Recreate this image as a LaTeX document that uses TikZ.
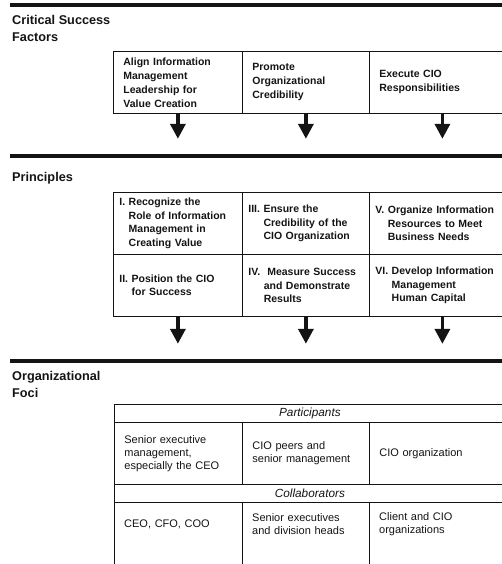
\documentclass[tikz,border=0pt]{standalone}
\usepackage{fontspec}
\setmainfont{Liberation Sans}
\usetikzlibrary{arrows.meta, positioning}
\definecolor{ink}{RGB}{20,20,20}
\newcommand{\hangnum}[1]{\phantom{#1}}
\tikzset{
  secrule/.style={draw=ink, line width=3.5pt},
  sectitle/.style={font=\fontsize{12.7}{17}\selectfont\bfseries, align=left, inner sep=0pt, text=ink},
  csfbox/.style={draw=ink, line width=0.8pt, anchor=north west, minimum height=62pt,
    inner xsep=10pt, inner ysep=0pt, text width=#1, align=left, text=ink,
    font=\fontsize{10.5}{14}\selectfont\bfseries},
  prinbox/.style={csfbox=#1, inner xsep=6pt, font=\fontsize{10.5}{13.5}\selectfont\bfseries},
  focihead/.style={draw=ink, line width=0.8pt, anchor=north west, minimum height=18pt,
    minimum width=391pt, inner sep=0pt, text=ink, font=\fontsize{11.8}{13}\selectfont\itshape},
  focicell/.style={anchor=north west, inner xsep=10pt, inner ysep=0pt, text width=#1,
    align=left, text=ink, font=\fontsize{11}{13}\selectfont},
  focigrid/.style={draw=ink, line width=0.8pt},
  flowarrow/.style={draw=ink, line width=3.5pt, -{Triangle[width=15pt,length=15pt]}}
}
\begin{document}
\begin{tikzpicture}[x=1pt, y=-1pt]
  \useasboundingbox (0,0) rectangle (502,564);
  % section rules
  \draw[secrule] (10,5) -- (520,5);
  \draw[secrule] (10,156) -- (520,156);
  \draw[secrule] (10,361) -- (520,361);
  % critical success factors
  \node[sectitle, anchor=north west] (csftitle) at (12,15) {Critical Success\\Factors};
  \node[csfbox=109pt] (csf1) at (113,51) {Align Information\\Management\\Leadership for\\Value Creation};
  \node[csfbox=107pt] (csf2) at (242,51) {Promote\\Organizational\\Credibility};
  \node[csfbox=126pt] (csf3) at (369,51) {Execute CIO\\Responsibilities};
  \coordinate (csf1tip) at ([yshift=-25pt]csf1.south);
  \coordinate (csf2tip) at ([yshift=-25pt]csf2.south);
  \coordinate (csf3tip) at ([yshift=-25pt]csf3.south);
  \draw[flowarrow] (csf1.south) -- (csf1tip);
  \draw[flowarrow] (csf2.south) -- (csf2tip);
  \draw[flowarrow] (csf3.south) -- (csf3tip);
  % principles
  \node[sectitle, anchor=base west] (printitle) at (12,181) {Principles};
  \node[prinbox=117pt] (prin1) at (113,192) {I. Recognize the\\\hangnum{I.\ }Role of Information\\\hangnum{I.\ }Management in\\\hangnum{I.\ }Creating Value};
  \node[prinbox=115pt] (prin3) at (242,192) {III. Ensure the\\\hangnum{III.\ }Credibility of the\\\hangnum{III.\ }CIO Organization};
  \node[prinbox=134pt] (prin5) at (369,192) {V. Organize Information\\\hangnum{V.\ }Resources to Meet\\\hangnum{V.\ }Business Needs};
  \node[prinbox=117pt] (prin2) at (113,254) {II. Position the CIO\\\hangnum{II.\ }for Success};
  \node[prinbox=115pt] (prin4) at (242,254) {IV.\ \ Measure Success\\\hangnum{IV.\ }and Demonstrate\\\hangnum{IV.\ }Results};
  \node[prinbox=134pt] (prin6) at (369,254) {VI. Develop Information\\\hangnum{VI.\ }Management\\\hangnum{VI.\ }Human Capital};
  \coordinate (prin2tip) at ([yshift=-27pt]prin2.south);
  \coordinate (prin4tip) at ([yshift=-27pt]prin4.south);
  \coordinate (prin6tip) at ([yshift=-27pt]prin6.south);
  \draw[flowarrow] (prin2.south) -- (prin2tip);
  \draw[flowarrow] (prin4.south) -- (prin4tip);
  \draw[flowarrow] (prin6.south) -- (prin6tip);
  % organizational foci
  \node[sectitle, anchor=north west] (focititle) at (12,371) {Organizational\\Foci};
  \node[focihead] (parthead) at (114,404) {Participants};
  \node[focicell=108pt, draw=ink, line width=0.8pt, minimum height=62pt] (part1) at (114,422) {Senior executive\\management,\\especially the CEO};
  \node[focicell=107pt, draw=ink, line width=0.8pt, minimum height=62pt] (part2) at (242,422) {CIO peers and\\senior management};
  \node[focicell=116pt, draw=ink, line width=0.8pt, minimum height=62pt] (part3) at (369,422) {CIO organization};
  \node[focihead] (collhead) at (114,484) {Collaborators};
  \node[focicell=108pt, minimum height=44pt] (coll1) at (114,502) {CEO, CFO, COO};
  \node[focicell=107pt, minimum height=44pt] (coll2) at (242,502) {Senior executives\\and division heads};
  \node[focicell=116pt, minimum height=44pt] (coll3) at (369,502) {Client and CIO\\organizations};
  \coordinate (pagebottom) at (0,570);
  \draw[focigrid] (coll1.north west) -- (coll1.north west |- pagebottom);
  \draw[focigrid] (coll2.north west) -- (coll2.north west |- pagebottom);
  \draw[focigrid] (coll3.north west) -- (coll3.north west |- pagebottom);
\end{tikzpicture}
\end{document}
